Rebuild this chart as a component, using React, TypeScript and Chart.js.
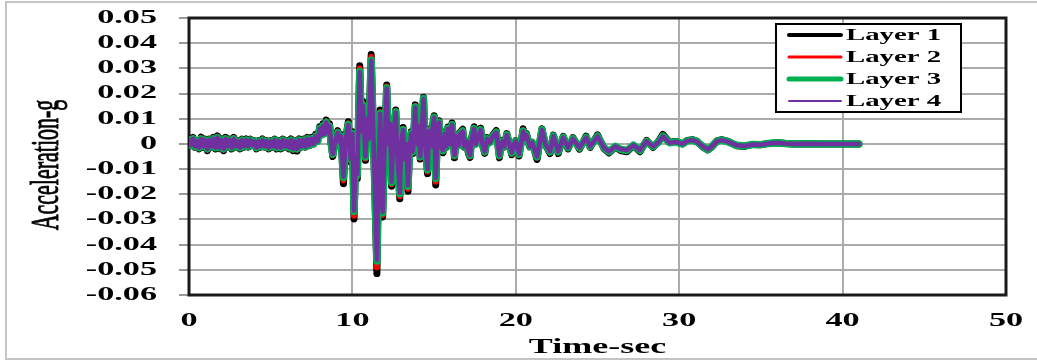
import { useEffect, useRef } from 'react';
import { Chart, registerables } from 'chart.js';

Chart.register(...registerables);

// ---- data ----
const times = [
  0, 0.125, 0.25, 0.375, 0.5, 0.625, 0.75, 0.875, 1, 1.125,
  1.25, 1.375, 1.5, 1.625, 1.75, 1.875, 2, 2.125, 2.25, 2.375,
  2.5, 2.625, 2.75, 2.875, 3, 3.125, 3.25, 3.375, 3.5, 3.625,
  3.75, 3.875, 4, 4.125, 4.25, 4.375, 4.5, 4.625, 4.75, 4.875,
  5, 5.125, 5.25, 5.375, 5.5, 5.625, 5.75, 5.875, 6, 6.125,
  6.25, 6.375, 6.5, 6.625, 6.75, 6.875, 7, 7.125, 7.25, 7.375,
  7.5, 7.625, 7.75, 7.875,
  8.0, 8.1, 8.2, 8.3, 8.4, 8.5, 8.6, 8.7, 8.8, 8.95,
  9.1, 9.2, 9.3, 9.45, 9.6, 9.75, 9.9, 10.0, 10.1, 10.2,
  10.3, 10.45, 10.55, 10.65, 10.8, 10.9, 11.0, 11.15, 11.3, 11.5,
  11.6, 11.7, 11.85, 11.95, 12.1, 12.2, 12.3, 12.4, 12.5, 12.65,
  12.75, 12.9, 13.0, 13.1, 13.2, 13.3, 13.4, 13.5, 13.6, 13.7,
  13.85, 13.95, 14.05, 14.15, 14.35, 14.45, 14.6, 14.7, 14.8, 14.9,
  15.0, 15.1, 15.2, 15.3, 15.4, 15.55, 15.65, 15.75, 15.85, 16.0,
  16.1, 16.25, 16.35, 16.5, 16.6, 16.75, 16.85, 17.0, 17.1, 17.2,
  17.3, 17.45, 17.55, 17.7, 17.85, 17.95, 18.1, 18.25, 18.4, 18.6,
  18.8, 18.9, 19.0, 19.1, 19.2, 19.3, 19.45, 19.6, 19.75, 19.9,
  20.0, 20.2, 20.45, 20.55, 20.65, 20.85, 21.0, 21.3, 21.6, 21.8,
  22.1, 22.3, 22.6, 22.9, 23.2, 23.5, 23.9, 24.3, 24.55, 25,
  25.4, 25.7, 26.1, 26.4, 26.8, 27.2, 27.6, 28, 28.4, 28.7,
  29, 29.4, 29.8, 30.2, 30.5, 30.8, 31.1, 31.4, 31.75, 32,
  32.3, 32.6, 33, 33.5, 34, 34.5, 35, 35.5, 36, 36.5,
  37, 38, 39, 40, 41,
];

const layer1 = [
  0.0020, -0.0007, 0.0026, -0.0013, 0.0013, -0.0020, 0.0027, -0.0014, 0.0019, -0.0027,
  0.0019, -0.0013, 0.0026, -0.0020, 0.0032, -0.0019, 0.0020, -0.0027, 0.0026, -0.0013,
  0.0019, -0.0020, 0.0026, -0.0013, 0.0013, -0.0020, 0.0019, -0.0013, 0.0020, -0.0013,
  0.0019, -0.0007, 0.0013, -0.0020, 0.0013, -0.0013, 0.0020, -0.0013, 0.0013, -0.0020,
  0.0013, -0.0013, 0.0019, -0.0020, 0.0013, -0.0020, 0.0019, -0.0013, 0.0013, -0.0020,
  0.0020, -0.0027, 0.0013, -0.0028, 0.0020, -0.0013, 0.0019, -0.0013, 0.0026, -0.0007,
  0.0026, 0.0000, 0.0038, 0.0013,
  0.0068, 0.0041, 0.0080, 0.0046, 0.0095, 0.0052, 0.0080, 0.0000, -0.0050, 0.0013,
  0.0053, 0.0013, 0.0038, -0.0158, 0.0026, 0.0088, -0.0072, 0.0048, -0.0298, -0.0060,
  -0.0138, 0.0310, 0.0060, 0.0168, -0.0065, 0.0114, 0.0026, 0.0355, 0.0000, -0.0515,
  -0.0114, 0.0135, -0.0290, -0.0060, 0.0234, 0.0000, 0.0092, -0.0168, 0.0026, 0.0135,
  -0.0048, -0.0218, 0.0013, 0.0065, -0.0072, 0.0000, -0.0188, -0.0026, 0.0048, -0.0038,
  0.0155, 0.0000, 0.0080, -0.0060, 0.0185, 0.0000, -0.0118, 0.0060, -0.0013, 0.0070,
  0.0112, -0.0163, 0.0026, 0.0092, -0.0013, -0.0035, 0.0048, -0.0013, 0.0067, 0.0000,
  0.0083, -0.0055, 0.0036, -0.0007, 0.0046, 0.0058, -0.0013, 0.0012, -0.0038, -0.0054,
  0.0024, 0.0068, 0.0000, 0.0024, 0.0063, 0.0000, -0.0038, 0.0025, 0.0007, 0.0036,
  0.0053, 0.0000, -0.0055, 0.0000, 0.0014, -0.0013, 0.0041, 0.0000, -0.0043, 0.0000,
  0.0013, -0.0048, 0.0060, 0.0024, 0.0041, -0.0012, 0.0007, -0.0062, 0.0060, -0.0002,
  -0.0038, 0.0035, -0.0038, 0.0030, -0.0020, 0.0025, -0.0021, 0.0031, -0.0014, 0.0036,
  -0.0019, -0.0036, -0.0012, -0.0026, -0.0031, -0.0007, -0.0031, 0.0014, -0.0014, 0.0007,
  0.0038, 0.0007, 0.0010, 0.0000, 0.0014, 0.0017, 0.0010, -0.0010, -0.0024, -0.0012,
  0.0012, 0.0017, 0.0010, -0.0007, -0.0010, -0.0002, -0.0003, 0.0002, 0.0005, 0.0002,
  0.0000, 0.0001, 0.0000, 0.0000, 0.0000,
];

const layer2 = [
  0.0017, -0.0006, 0.0023, -0.0012, 0.0012, -0.0017, 0.0023, -0.0012, 0.0017, -0.0023,
  0.0017, -0.0012, 0.0023, -0.0017, 0.0029, -0.0017, 0.0017, -0.0023, 0.0023, -0.0012,
  0.0017, -0.0017, 0.0023, -0.0012, 0.0012, -0.0017, 0.0017, -0.0012, 0.0017, -0.0012,
  0.0017, -0.0006, 0.0012, -0.0017, 0.0012, -0.0012, 0.0017, -0.0012, 0.0012, -0.0017,
  0.0012, -0.0012, 0.0017, -0.0017, 0.0012, -0.0017, 0.0017, -0.0012, 0.0012, -0.0017,
  0.0017, -0.0023, 0.0012, -0.0023, 0.0017, -0.0012, 0.0017, -0.0012, 0.0023, -0.0006,
  0.0023, 0.0000, 0.0034, 0.0012,
  0.0064, 0.0038, 0.0075, 0.0043, 0.0090, 0.0049, 0.0075, 0.0000, -0.0045, 0.0012,
  0.0049, 0.0012, 0.0034, -0.0145, 0.0023, 0.0082, -0.0066, 0.0044, -0.0285, -0.0055,
  -0.0130, 0.0300, 0.0055, 0.0160, -0.0058, 0.0107, 0.0023, 0.0345, 0.0000, -0.0490,
  -0.0107, 0.0127, -0.0282, -0.0055, 0.0228, 0.0000, 0.0086, -0.0160, 0.0023, 0.0131,
  -0.0044, -0.0208, 0.0012, 0.0060, -0.0066, 0.0000, -0.0178, -0.0023, 0.0045, -0.0034,
  0.0151, 0.0000, 0.0075, -0.0055, 0.0182, 0.0000, -0.0110, 0.0055, -0.0012, 0.0065,
  0.0108, -0.0150, 0.0023, 0.0089, -0.0012, -0.0030, 0.0044, -0.0012, 0.0064, 0.0000,
  0.0079, -0.0050, 0.0033, -0.0006, 0.0043, 0.0054, -0.0012, 0.0011, -0.0034, -0.0050,
  0.0022, 0.0064, 0.0000, 0.0022, 0.0059, 0.0000, -0.0034, 0.0022, 0.0006, 0.0033,
  0.0049, 0.0000, -0.0050, 0.0000, 0.0012, -0.0012, 0.0038, 0.0000, -0.0039, 0.0000,
  0.0012, -0.0044, 0.0055, 0.0022, 0.0038, -0.0011, 0.0006, -0.0055, 0.0058, -0.0001,
  -0.0034, 0.0033, -0.0034, 0.0028, -0.0017, 0.0023, -0.0018, 0.0028, -0.0012, 0.0033,
  -0.0017, -0.0033, -0.0011, -0.0023, -0.0028, -0.0006, -0.0028, 0.0012, -0.0012, 0.0006,
  0.0034, 0.0006, 0.0009, 0.0000, 0.0013, 0.0016, 0.0009, -0.0009, -0.0023, -0.0011,
  0.0011, 0.0016, 0.0009, -0.0006, -0.0009, -0.0002, -0.0003, 0.0002, 0.0005, 0.0002,
  0.0000, 0.0001, 0.0000, 0.0000, 0.0000,
];

const layer3 = [
  0.0015, -0.0005, 0.0020, -0.0010, 0.0010, -0.0015, 0.0020, -0.0010, 0.0015, -0.0020,
  0.0015, -0.0010, 0.0020, -0.0015, 0.0025, -0.0015, 0.0015, -0.0020, 0.0020, -0.0010,
  0.0015, -0.0015, 0.0020, -0.0010, 0.0010, -0.0015, 0.0015, -0.0010, 0.0015, -0.0010,
  0.0015, -0.0005, 0.0010, -0.0015, 0.0010, -0.0010, 0.0015, -0.0010, 0.0010, -0.0015,
  0.0010, -0.0010, 0.0015, -0.0015, 0.0010, -0.0015, 0.0015, -0.0010, 0.0010, -0.0015,
  0.0015, -0.0020, 0.0010, -0.0020, 0.0015, -0.0010, 0.0015, -0.0010, 0.0020, -0.0005,
  0.0020, 0.0000, 0.0030, 0.0010,
  0.0061, 0.0035, 0.0071, 0.0040, 0.0086, 0.0045, 0.0071, 0.0000, -0.0041, 0.0010,
  0.0045, 0.0010, 0.0030, -0.0133, 0.0020, 0.0077, -0.0061, 0.0040, -0.0268, -0.0051,
  -0.0122, 0.0288, 0.0051, 0.0152, -0.0052, 0.0101, 0.0020, 0.0332, 0.0000, -0.0465,
  -0.0101, 0.0121, -0.0273, -0.0051, 0.0222, 0.0000, 0.0081, -0.0153, 0.0020, 0.0127,
  -0.0041, -0.0198, 0.0010, 0.0056, -0.0061, 0.0000, -0.0168, -0.0020, 0.0041, -0.0030,
  0.0147, 0.0000, 0.0071, -0.0051, 0.0180, 0.0000, -0.0102, 0.0051, -0.0010, 0.0061,
  0.0106, -0.0137, 0.0020, 0.0086, -0.0010, -0.0026, 0.0041, -0.0010, 0.0061, 0.0000,
  0.0076, -0.0046, 0.0030, -0.0005, 0.0041, 0.0051, -0.0010, 0.0010, -0.0030, -0.0046,
  0.0020, 0.0061, 0.0000, 0.0020, 0.0056, 0.0000, -0.0031, 0.0020, 0.0005, 0.0030,
  0.0046, 0.0000, -0.0046, 0.0000, 0.0010, -0.0010, 0.0036, 0.0000, -0.0036, 0.0000,
  0.0010, -0.0041, 0.0051, 0.0020, 0.0036, -0.0010, 0.0005, -0.0051, 0.0056, 0.0000,
  -0.0031, 0.0031, -0.0031, 0.0026, -0.0015, 0.0021, -0.0016, 0.0026, -0.0010, 0.0031,
  -0.0015, -0.0031, -0.0010, -0.0021, -0.0026, -0.0005, -0.0026, 0.0010, -0.0010, 0.0005,
  0.0031, 0.0005, 0.0008, 0.0000, 0.0012, 0.0015, 0.0008, -0.0008, -0.0022, -0.0010,
  0.0010, 0.0015, 0.0008, -0.0005, -0.0008, -0.0002, -0.0003, 0.0002, 0.0005, 0.0002,
  0.0000, 0.0001, 0.0000, 0.0000, 0.0000,
];

const layer4 = [
  0.0015, -0.0005, 0.0020, -0.0010, 0.0010, -0.0015, 0.0020, -0.0010, 0.0015, -0.0020,
  0.0015, -0.0010, 0.0020, -0.0015, 0.0025, -0.0015, 0.0015, -0.0020, 0.0020, -0.0010,
  0.0015, -0.0015, 0.0020, -0.0010, 0.0010, -0.0015, 0.0015, -0.0010, 0.0015, -0.0010,
  0.0015, -0.0005, 0.0010, -0.0015, 0.0010, -0.0010, 0.0015, -0.0010, 0.0010, -0.0015,
  0.0010, -0.0010, 0.0015, -0.0015, 0.0010, -0.0015, 0.0015, -0.0010, 0.0010, -0.0015,
  0.0015, -0.0020, 0.0010, -0.0020, 0.0015, -0.0010, 0.0015, -0.0010, 0.0020, -0.0005,
  0.0020, 0.0000, 0.0030, 0.0010,
  0.0060, 0.0035, 0.0070, 0.0040, 0.0085, 0.0045, 0.0070, 0.0000, -0.0040, 0.0010,
  0.0045, 0.0010, 0.0030, -0.0130, 0.0020, 0.0075, -0.0060, 0.0040, -0.0265, -0.0050,
  -0.0120, 0.0285, 0.0050, 0.0150, -0.0050, 0.0100, 0.0020, 0.0330, 0.0000, -0.0460,
  -0.0100, 0.0120, -0.0270, -0.0050, 0.0220, 0.0000, 0.0080, -0.0150, 0.0020, 0.0125,
  -0.0040, -0.0195, 0.0010, 0.0055, -0.0060, 0.0000, -0.0165, -0.0020, 0.0040, -0.0030,
  0.0145, 0.0000, 0.0070, -0.0050, 0.0178, 0.0000, -0.0100, 0.0050, -0.0010, 0.0060,
  0.0105, -0.0135, 0.0020, 0.0085, -0.0010, -0.0025, 0.0040, -0.0010, 0.0060, 0.0000,
  0.0075, -0.0045, 0.0030, -0.0005, 0.0040, 0.0050, -0.0010, 0.0010, -0.0030, -0.0045,
  0.0020, 0.0060, 0.0000, 0.0020, 0.0055, 0.0000, -0.0030, 0.0020, 0.0005, 0.0030,
  0.0045, 0.0000, -0.0045, 0.0000, 0.0010, -0.0010, 0.0035, 0.0000, -0.0035, 0.0000,
  0.0010, -0.0040, 0.0050, 0.0020, 0.0035, -0.0010, 0.0005, -0.0050, 0.0055, 0.0000,
  -0.0030, 0.0030, -0.0030, 0.0025, -0.0015, 0.0020, -0.0015, 0.0025, -0.0010, 0.0030,
  -0.0015, -0.0030, -0.0010, -0.0020, -0.0025, -0.0005, -0.0025, 0.0010, -0.0010, 0.0005,
  0.0030, 0.0005, 0.0008, 0.0000, 0.0012, 0.0015, 0.0008, -0.0008, -0.0022, -0.0010,
  0.0010, 0.0015, 0.0008, -0.0005, -0.0008, -0.0002, -0.0003, 0.0002, 0.0005, 0.0002,
  0.0000, 0.0001, 0.0000, 0.0000, 0.0000,
];

const seriesNames = ['Layer 1', 'Layer 2', 'Layer 3', 'Layer 4'];
const seriesColors = ['#000000', '#ff0000', '#00b050', '#7030a0'];

const xTicks = [0, 10, 20, 30, 40, 50];
const xTickLabels = ['0', '10', '20', '30', '40', '50'];
const yTicks = [0.05, 0.04, 0.03, 0.02, 0.01, 0, -0.01, -0.02, -0.03, -0.04, -0.05, -0.06];
const yTickLabels = ['0.05', '0.04', '0.03', '0.02', '0.01', '0', '-0.01', '-0.02', '-0.03', '-0.04', '-0.05', '-0.06'];
const xTitle = 'Time-sec';
const yTitle = 'Acceleration-g';

// ---- styling helpers ----
const SERIF = '"Liberation Serif", "Times New Roman", serif';
const SX = 1.8;

function stretchedText(ctx: CanvasRenderingContext2D, text: string, x: number, y: number, font: string, align: CanvasTextAlign, sx = SX) {
  ctx.save();
  ctx.font = font;
  ctx.translate(x, y);
  ctx.scale(sx, 1);
  ctx.textAlign = align;
  ctx.textBaseline = 'middle';
  ctx.fillStyle = '#000';
  ctx.fillText(text, 0, 0);
  ctx.restore();
}

const decorPlugin = {
  id: 'decor',
  beforeDraw(chart: any) {
    const ctx = chart.ctx as CanvasRenderingContext2D;
    ctx.save();
    ctx.fillStyle = '#ffffff';
    ctx.fillRect(0, 0, chart.width, chart.height);
    ctx.restore();
  },
  beforeDatasetsDraw(chart: any) {
    const ctx = chart.ctx as CanvasRenderingContext2D;
    const a = chart.chartArea;
    ctx.save();
    ctx.strokeStyle = '#1a1a1a';
    ctx.lineWidth = 3;
    ctx.strokeRect(a.left, a.top, a.right - a.left, a.bottom - a.top);
    ctx.restore();
  },
  afterDraw(chart: any) {
    const ctx = chart.ctx as CanvasRenderingContext2D;
    const xs = chart.scales.x;
    const ys = chart.scales.y;
    const a = chart.chartArea;

    yTicks.forEach((v, i) => {
      stretchedText(ctx, yTickLabels[i], a.left - 32, ys.getPixelForValue(v), `bold 19px ${SERIF}`, 'right');
    });
    xTicks.forEach((v, i) => {
      stretchedText(ctx, xTickLabels[i], xs.getPixelForValue(v), a.bottom + 26, `bold 19px ${SERIF}`, 'center');
    });
    stretchedText(ctx, xTitle, (a.left + a.right) / 2, a.bottom + 53, `bold 20px ${SERIF}`, 'center');

    // y title (rotated, glyph height stretched)
    ctx.save();
    ctx.translate(48, 165);
    ctx.rotate(-Math.PI / 2);
    ctx.scale(1, 1.8);
    ctx.font = `22px ${SERIF}`;
    ctx.textAlign = 'center';
    ctx.textBaseline = 'middle';
    ctx.fillStyle = '#000';
    ctx.strokeStyle = '#000';
    ctx.lineWidth = 0.5;
    ctx.fillText(yTitle, 0, 0);
    ctx.strokeText(yTitle, 0, 0);
    ctx.restore();

    // legend
    const lx = 776, ly = 24, lw = 185, lh = 88;
    ctx.save();
    ctx.fillStyle = '#ffffff';
    ctx.fillRect(lx, ly, lw, lh);
    ctx.strokeStyle = '#000';
    ctx.lineWidth = 2;
    ctx.strokeRect(lx, ly, lw, lh);
    const rowY = [35, 57, 79, 101];
    const legendWidths = [4, 3, 5, 2];
    chart.data.datasets.forEach((ds: any, i: number) => {
      ctx.beginPath();
      ctx.strokeStyle = ds.borderColor;
      ctx.lineWidth = legendWidths[i];
      ctx.lineCap = 'round';
      ctx.moveTo(789, rowY[i]);
      ctx.lineTo(841, rowY[i]);
      ctx.stroke();
      stretchedText(ctx, ds.label, 846, rowY[i] + 1, `bold 16px ${SERIF}`, 'left', 1.8);
    });
    ctx.restore();

    // outer frame
    ctx.save();
    ctx.strokeStyle = '#c4c4c4';
    ctx.lineWidth = 2;
    ctx.beginPath();
    ctx.moveTo(1040, 2);
    ctx.lineTo(6, 2);
    ctx.lineTo(6, 359);
    ctx.lineTo(1040, 359);
    ctx.stroke();
    ctx.restore();
  },
};

export default function App() {
  const canvasRef = useRef<HTMLCanvasElement | null>(null);

  useEffect(() => {
    const canvas = canvasRef.current;
    if (!canvas) return;
    const layers = [layer1, layer2, layer3, layer4];
    const widths = [7, 6, 7.5, 4.5];
    const orders = [3, 2, 1, 0];
    const chart = new Chart(canvas, {
      type: 'line',
      data: {
        datasets: layers.map((vals, i) => ({
          label: seriesNames[i],
          data: times.map((t, j) => ({ x: t, y: vals[j] })),
          borderColor: seriesColors[i],
          backgroundColor: seriesColors[i],
          borderWidth: widths[i],
          pointRadius: 0,
          tension: 0,
          fill: false,
          order: orders[i],
          borderJoinStyle: 'round' as const,
          borderCapStyle: 'round' as const,
        })),
      },
      options: {
        responsive: false,
        animation: false,
        layout: { padding: { left: 179, right: 31, top: 18, bottom: 67 } },
        plugins: {
          legend: { display: false },
          tooltip: { enabled: false },
          title: { display: false },
        },
        scales: {
          x: {
            type: 'linear',
            min: 0,
            max: 50,
            afterFit: (s: any) => { s.height = 0; },
            afterBuildTicks: (s: any) => { s.ticks = xTicks.map((v) => ({ value: v })); },
            ticks: { display: false },
            grid: { color: '#ababab', lineWidth: 2, drawTicks: false },
            border: { display: false },
          },
          y: {
            type: 'linear',
            min: -0.06,
            max: 0.05,
            afterFit: (s: any) => { s.width = 10; },
            afterBuildTicks: (s: any) => { s.ticks = yTicks.map((v) => ({ value: v })); },
            ticks: { display: false },
            grid: { color: '#ababab', lineWidth: 2, drawTicks: true, tickLength: 10, tickColor: '#9a9a9a' },
            border: { display: false },
          },
        },
      },
      plugins: [decorPlugin],
    });
    return () => chart.destroy();
  }, []);

  return (
    <div style={{ position: 'fixed', left: 0, top: 0, width: 1037, height: 362, background: '#fff' }}>
      <canvas ref={canvasRef} width={1037} height={362} style={{ display: 'block', width: 1037, height: 362 }} />
    </div>
  );
}
